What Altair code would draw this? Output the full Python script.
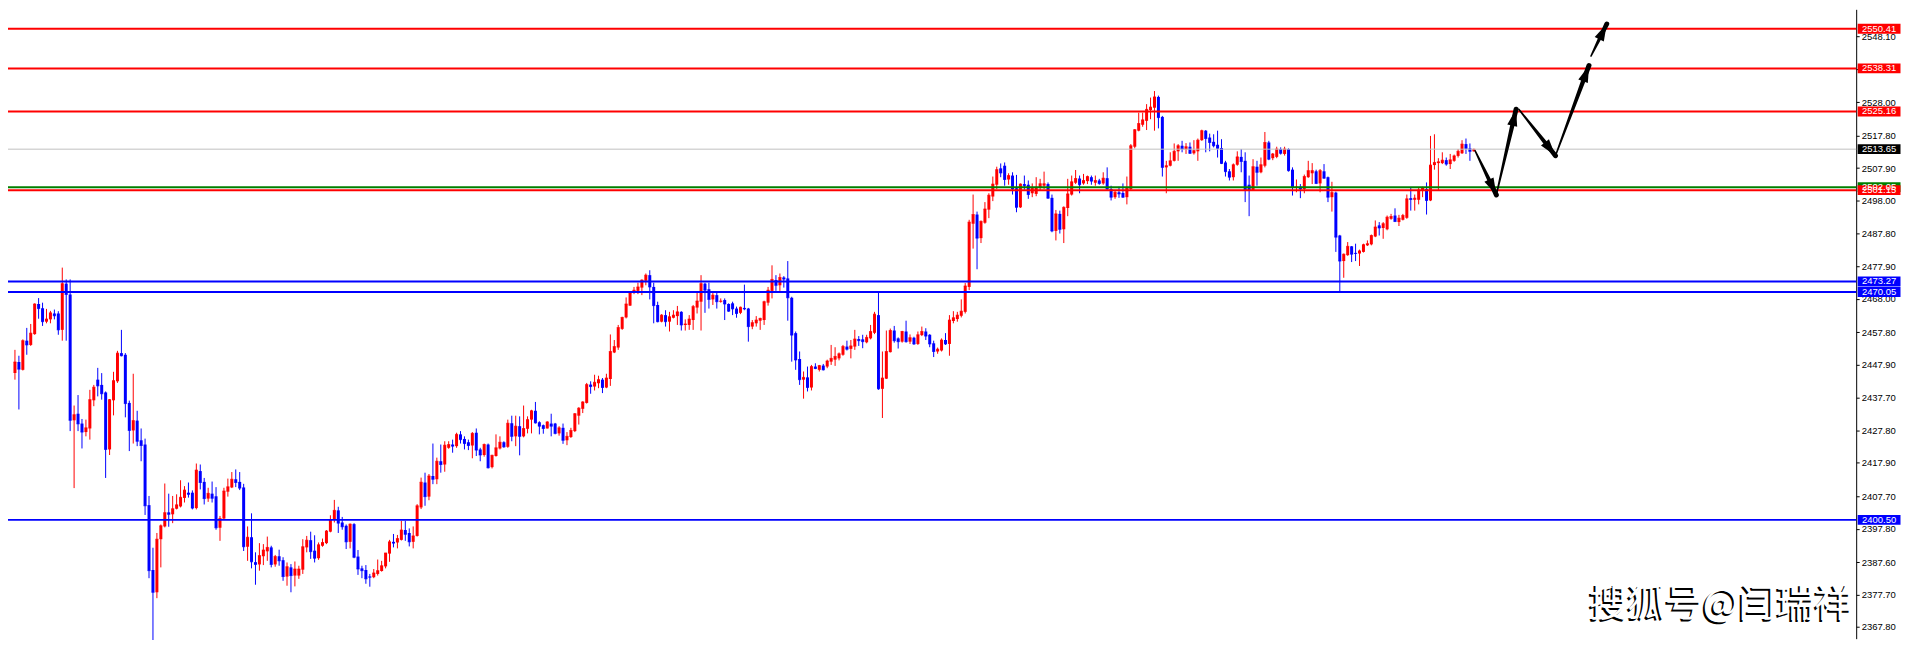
import math
import altair as alt
import numpy as np
import pandas as pd

# ---------------- candle data, candles 1..371 ----------------
OPEN = [
    2445.3, 2448.7, 2446.3, 2455.2, 2453.9, 2457.2, 2466.4, 2465.1, 2461.0, 2461.7,
    2463.5, 2463.5, 2458.5, 2472.6, 2469.3, 2430.9, 2432.9, 2429.9, 2427.3, 2428.4,
    2437.0, 2443.3, 2441.7, 2439.4, 2422.0, 2437.0, 2442.8, 2451.4, 2450.9, 2436.2,
    2427.8, 2430.8, 2424.8, 2423.5, 2405.0, 2385.2, 2378.4, 2394.6, 2398.5, 2402.8,
    2402.2, 2403.9, 2404.6, 2407.2, 2408.8, 2408.8, 2404.1, 2415.4, 2412.1, 2407.0,
    2408.5, 2407.7, 2398.1, 2400.9, 2409.1, 2410.4, 2412.9, 2412.1, 2410.4, 2392.3,
    2395.2, 2387.6, 2386.9, 2389.4, 2390.9, 2392.1, 2386.9, 2389.4, 2388.2, 2383.2,
    2386.0, 2383.5, 2383.5, 2385.3, 2392.1, 2394.3, 2391.1, 2388.8, 2392.6, 2393.4,
    2396.9, 2400.5, 2403.4, 2399.7, 2398.7, 2393.8, 2399.2, 2389.3, 2385.7, 2385.2,
    2383.2, 2383.0, 2384.0, 2384.9, 2386.3, 2390.2, 2393.8, 2393.6, 2394.4, 2397.4,
    2396.5, 2393.8, 2395.6, 2404.3, 2411.9, 2407.6, 2413.9, 2412.9, 2418.4, 2417.4,
    2422.5, 2423.5, 2423.0, 2426.6, 2425.2, 2424.2, 2423.2, 2427.1, 2422.0, 2420.3,
    2423.5, 2416.6, 2420.0, 2422.3, 2424.2, 2422.8, 2430.0, 2426.0, 2429.1, 2426.0,
    2428.3, 2431.1, 2433.8, 2430.3, 2429.4, 2428.4, 2429.9, 2429.9, 2426.9, 2428.6,
    2424.8, 2425.8, 2427.6, 2432.3, 2434.4, 2436.2, 2441.8, 2441.2, 2442.2, 2443.3,
    2440.9, 2443.5, 2451.6, 2453.1, 2458.8, 2462.3, 2465.9, 2469.8, 2470.4, 2471.4,
    2473.5, 2475.2, 2471.6, 2466.1, 2461.0, 2463.0, 2461.0, 2462.2, 2462.7, 2464.0,
    2460.0, 2460.0, 2461.5, 2465.3, 2467.1, 2472.6, 2470.9, 2467.8, 2469.1, 2467.1,
    2467.6, 2466.4, 2466.6, 2465.0, 2463.7, 2465.2, 2465.0, 2459.5, 2460.5, 2461.3,
    2461.5, 2466.8, 2470.4, 2473.7, 2472.1, 2474.5, 2474.2, 2468.3, 2457.5, 2449.6,
    2443.3, 2444.0, 2440.9, 2447.3, 2446.3, 2447.6, 2447.3, 2448.8, 2449.4, 2449.8,
    2450.9, 2453.4, 2452.7, 2453.4, 2455.7, 2455.6, 2454.7, 2455.9, 2457.6, 2463.0,
    2440.5, 2443.6, 2451.7, 2458.3, 2455.9, 2454.9, 2458.0, 2454.9, 2456.1, 2454.2,
    2456.9, 2458.0, 2457.0, 2454.4, 2451.9, 2452.2, 2455.4, 2454.2, 2461.2, 2461.8,
    2462.8, 2464.0, 2471.6, 2490.9, 2493.7, 2486.5, 2491.2, 2495.2, 2499.2, 2502.8,
    2507.8, 2508.6, 2504.4, 2505.6, 2501.7, 2495.9, 2503.0, 2502.8, 2500.2, 2500.0,
    2501.8, 2502.5, 2503.0, 2498.8, 2488.7, 2493.9, 2489.2, 2495.7, 2499.8, 2503.4,
    2504.7, 2503.2, 2503.9, 2505.1, 2503.4, 2504.1, 2503.2, 2504.8, 2501.5, 2499.0,
    2500.5, 2500.3, 2499.0, 2501.5, 2514.4, 2519.3, 2521.1, 2522.3, 2525.6, 2526.3,
    2529.6, 2523.5, 2508.1, 2508.6, 2510.1, 2513.0, 2514.7, 2513.6, 2514.4, 2512.4,
    2513.0, 2516.4, 2519.3, 2517.2, 2515.9, 2515.0, 2514.0, 2509.6, 2506.9, 2505.1,
    2508.9, 2511.3, 2510.1, 2502.8, 2501.2, 2508.3, 2506.6, 2508.6, 2515.7, 2510.9,
    2511.3, 2513.7, 2512.2, 2513.7, 2507.4, 2502.0, 2502.2, 2501.5, 2505.1, 2506.3,
    2506.9, 2503.2, 2506.9, 2505.1, 2499.0, 2500.4, 2487.3, 2479.5, 2481.3, 2484.0,
    2482.0, 2481.8, 2482.3, 2484.3, 2484.6, 2487.0, 2490.4, 2489.6, 2489.2, 2492.4,
    2493.4, 2491.4, 2492.1, 2492.7, 2498.7, 2498.2, 2498.2, 2501.0, 2501.5, 2498.0,
    2508.8, 2509.4, 2509.4, 2510.3, 2509.1, 2510.1, 2511.6, 2512.4, 2515.2, 2513.9, 2513.0,
]
HIGH = [
    2452.4, 2450.6, 2455.6, 2459.1, 2460.3, 2466.6, 2468.2, 2466.8, 2464.9, 2464.3,
    2464.7, 2464.2, 2477.5, 2473.9, 2473.9, 2435.4, 2438.6, 2431.3, 2431.1, 2440.2,
    2441.7, 2446.9, 2445.3, 2439.7, 2437.4, 2445.7, 2452.1, 2458.5, 2451.4, 2436.9,
    2445.1, 2433.8, 2428.4, 2425.3, 2407.8, 2392.0, 2396.5, 2399.1, 2411.6, 2408.5,
    2407.8, 2408.3, 2412.6, 2410.8, 2411.9, 2409.5, 2417.7, 2417.4, 2413.3, 2410.3,
    2412.2, 2410.5, 2401.7, 2410.3, 2413.1, 2415.1, 2415.9, 2415.1, 2411.5, 2398.5,
    2402.5, 2390.6, 2393.4, 2393.1, 2395.4, 2392.6, 2389.8, 2391.4, 2389.1, 2387.5,
    2387.0, 2387.8, 2386.5, 2394.6, 2395.6, 2396.9, 2395.8, 2393.6, 2394.8, 2397.4,
    2401.9, 2406.6, 2404.5, 2401.4, 2399.1, 2399.4, 2399.5, 2391.3, 2386.5, 2386.7,
    2384.0, 2385.5, 2388.4, 2388.0, 2390.4, 2394.4, 2396.2, 2395.9, 2400.2, 2400.2,
    2397.9, 2398.5, 2405.3, 2413.4, 2414.9, 2414.5, 2423.8, 2419.5, 2423.5, 2424.5,
    2424.5, 2425.0, 2427.1, 2427.6, 2426.0, 2425.0, 2427.3, 2428.4, 2422.5, 2423.8,
    2423.8, 2420.4, 2426.6, 2426.0, 2424.5, 2431.1, 2432.3, 2432.3, 2432.1, 2435.4,
    2432.1, 2434.1, 2436.5, 2430.6, 2429.6, 2430.6, 2432.9, 2430.1, 2429.1, 2429.9,
    2427.3, 2428.6, 2433.1, 2434.9, 2436.7, 2442.3, 2442.8, 2444.8, 2444.5, 2443.8,
    2445.1, 2457.1, 2455.4, 2460.0, 2462.5, 2468.4, 2470.1, 2471.6, 2472.9, 2473.9,
    2475.7, 2476.7, 2472.9, 2467.1, 2463.3, 2464.5, 2464.0, 2464.5, 2465.8, 2464.2,
    2461.7, 2463.0, 2466.1, 2470.1, 2475.2, 2472.9, 2472.9, 2470.1, 2469.9, 2468.1,
    2468.1, 2466.6, 2467.1, 2465.6, 2465.6, 2472.3, 2465.2, 2461.5, 2462.7, 2462.2,
    2467.4, 2471.6, 2478.2, 2475.2, 2475.7, 2474.9, 2479.5, 2468.6, 2458.0, 2451.9,
    2445.8, 2447.3, 2447.8, 2448.3, 2447.8, 2448.1, 2449.4, 2453.9, 2453.2, 2451.6,
    2453.9, 2455.2, 2455.4, 2458.5, 2456.6, 2457.0, 2457.0, 2460.0, 2464.0, 2469.8,
    2451.9, 2458.3, 2458.9, 2459.7, 2456.2, 2458.2, 2461.3, 2457.1, 2456.4, 2458.0,
    2459.5, 2459.0, 2457.2, 2455.2, 2453.1, 2455.9, 2457.5, 2463.0, 2464.2, 2464.0,
    2467.8, 2472.8, 2492.1, 2499.8, 2494.6, 2491.9, 2497.5, 2500.2, 2505.3, 2508.3,
    2509.3, 2509.6, 2506.3, 2506.6, 2505.8, 2503.2, 2505.6, 2504.1, 2503.2, 2505.1,
    2504.6, 2506.8, 2503.5, 2499.8, 2495.1, 2494.9, 2496.2, 2504.6, 2505.6, 2507.3,
    2505.6, 2506.1, 2505.6, 2505.6, 2505.6, 2504.6, 2506.6, 2508.1, 2502.5, 2501.2,
    2502.2, 2503.2, 2505.3, 2515.2, 2519.8, 2524.8, 2524.8, 2527.4, 2529.4, 2531.4,
    2530.0, 2523.8, 2510.1, 2512.7, 2515.4, 2515.2, 2516.2, 2515.5, 2515.7, 2516.4,
    2516.9, 2519.6, 2519.5, 2518.4, 2518.2, 2519.3, 2516.7, 2510.1, 2507.6, 2509.3,
    2513.0, 2513.7, 2512.7, 2505.6, 2510.6, 2510.1, 2511.1, 2518.9, 2516.2, 2512.5,
    2514.4, 2514.2, 2514.4, 2513.9, 2508.1, 2504.4, 2503.0, 2505.9, 2510.1, 2509.4,
    2507.4, 2507.6, 2509.1, 2505.3, 2503.7, 2500.7, 2487.5, 2481.8, 2485.3, 2484.1,
    2484.8, 2483.0, 2484.8, 2485.8, 2487.6, 2491.9, 2491.4, 2491.4, 2493.4, 2493.9,
    2495.6, 2493.6, 2493.9, 2499.8, 2501.8, 2499.8, 2501.8, 2502.2, 2503.5, 2517.7,
    2518.2, 2510.9, 2512.7, 2511.1, 2512.2, 2512.0, 2513.7, 2516.4, 2516.9, 2515.4, 2513.8,
]
LOW = [
    2443.3, 2434.2, 2446.1, 2450.9, 2453.6, 2457.0, 2461.9, 2459.7, 2460.5, 2460.5,
    2461.7, 2457.0, 2455.2, 2455.2, 2427.6, 2410.2, 2427.6, 2422.3, 2426.0, 2425.0,
    2435.2, 2438.2, 2437.2, 2413.3, 2420.3, 2432.4, 2442.3, 2450.4, 2431.8, 2421.5,
    2423.8, 2423.0, 2418.4, 2402.0, 2382.7, 2363.4, 2376.6, 2386.0, 2398.2, 2398.4,
    2399.5, 2403.7, 2404.3, 2405.8, 2407.3, 2403.7, 2403.7, 2409.8, 2405.2, 2406.0,
    2405.8, 2397.5, 2394.1, 2400.7, 2407.6, 2410.2, 2410.5, 2409.6, 2391.0, 2388.0,
    2385.7, 2380.7, 2385.0, 2386.7, 2388.0, 2386.0, 2386.2, 2386.5, 2381.9, 2380.4,
    2378.4, 2380.2, 2382.5, 2384.0, 2390.6, 2388.6, 2387.5, 2388.3, 2392.3, 2393.1,
    2396.7, 2399.7, 2396.5, 2397.5, 2391.6, 2391.8, 2388.8, 2383.7, 2382.7, 2381.0,
    2380.1, 2382.7, 2383.5, 2384.7, 2385.7, 2387.7, 2392.1, 2391.8, 2394.2, 2394.1,
    2392.4, 2391.8, 2395.4, 2403.8, 2404.8, 2406.5, 2411.4, 2411.4, 2414.9, 2415.2,
    2422.2, 2421.0, 2422.5, 2423.8, 2422.0, 2421.8, 2419.3, 2420.0, 2418.4, 2419.8,
    2416.2, 2416.2, 2419.8, 2422.0, 2422.5, 2422.5, 2424.5, 2423.0, 2420.2, 2425.7,
    2426.9, 2426.9, 2429.9, 2426.6, 2426.8, 2428.4, 2426.0, 2426.6, 2426.2, 2423.7,
    2423.3, 2425.5, 2427.3, 2429.6, 2433.1, 2436.0, 2439.0, 2440.0, 2440.7, 2439.2,
    2440.7, 2441.4, 2451.4, 2452.4, 2458.5, 2462.0, 2465.8, 2469.4, 2469.4, 2469.1,
    2472.1, 2467.8, 2460.5, 2460.8, 2460.8, 2459.5, 2458.0, 2462.0, 2460.0, 2458.3,
    2458.3, 2458.5, 2458.5, 2463.5, 2458.3, 2463.7, 2465.0, 2466.1, 2465.0, 2466.8,
    2461.5, 2464.0, 2463.0, 2462.2, 2463.3, 2464.5, 2454.9, 2458.7, 2459.5, 2458.5,
    2460.0, 2465.9, 2468.1, 2470.4, 2470.4, 2471.4, 2461.3, 2448.8, 2446.3, 2441.7,
    2437.5, 2439.7, 2440.0, 2446.5, 2445.8, 2446.1, 2446.8, 2447.8, 2447.5, 2449.2,
    2450.6, 2452.2, 2449.8, 2452.4, 2453.6, 2452.9, 2454.4, 2455.6, 2457.2, 2440.2,
    2431.6, 2443.5, 2451.6, 2454.6, 2452.8, 2454.6, 2454.6, 2454.2, 2453.9, 2453.9,
    2456.6, 2455.4, 2453.2, 2450.2, 2451.2, 2451.9, 2453.9, 2450.6, 2460.5, 2461.0,
    2462.3, 2463.5, 2470.6, 2483.3, 2477.0, 2485.0, 2490.9, 2492.6, 2497.8, 2501.5,
    2505.1, 2502.5, 2502.8, 2499.8, 2494.4, 2495.7, 2501.3, 2498.5, 2499.0, 2499.3,
    2501.0, 2501.5, 2498.5, 2488.3, 2485.8, 2487.9, 2485.0, 2493.2, 2499.5, 2503.0,
    2500.2, 2502.8, 2503.0, 2502.8, 2502.5, 2502.8, 2502.8, 2501.2, 2498.0, 2498.5,
    2498.8, 2498.8, 2496.8, 2501.2, 2513.9, 2519.1, 2520.5, 2519.5, 2522.8, 2519.3,
    2520.0, 2505.3, 2500.2, 2508.4, 2509.9, 2510.1, 2512.7, 2512.2, 2512.2, 2512.0,
    2510.1, 2516.2, 2512.7, 2513.0, 2514.2, 2511.1, 2509.1, 2505.3, 2504.1, 2504.1,
    2508.6, 2506.6, 2497.5, 2493.2, 2501.0, 2502.5, 2506.3, 2508.1, 2510.3, 2510.3,
    2510.9, 2512.0, 2511.7, 2506.8, 2499.5, 2500.5, 2498.7, 2500.2, 2504.9, 2503.0,
    2503.0, 2500.5, 2504.6, 2497.5, 2494.6, 2482.3, 2469.8, 2474.4, 2481.1, 2479.2,
    2479.5, 2478.0, 2482.1, 2484.1, 2484.3, 2486.8, 2487.3, 2486.3, 2488.9, 2492.1,
    2491.4, 2490.2, 2491.9, 2492.4, 2494.9, 2494.9, 2496.8, 2499.0, 2493.7, 2497.8,
    2507.4, 2501.2, 2509.1, 2508.6, 2507.6, 2509.8, 2511.1, 2512.2, 2512.2, 2510.1, 2512.9,
]
CLOSE = [
    2448.7, 2446.5, 2455.2, 2453.9, 2457.5, 2466.4, 2465.0, 2461.0, 2461.8, 2463.7,
    2462.8, 2458.5, 2472.6, 2469.3, 2430.9, 2432.6, 2429.8, 2427.3, 2428.6, 2437.2,
    2441.0, 2441.4, 2439.0, 2422.0, 2437.2, 2443.0, 2451.4, 2450.6, 2436.0, 2427.8,
    2430.8, 2424.5, 2423.2, 2404.8, 2385.0, 2378.4, 2394.6, 2398.7, 2402.7, 2402.2,
    2403.9, 2405.1, 2407.4, 2409.6, 2408.3, 2404.1, 2415.7, 2411.9, 2407.0, 2408.6,
    2407.1, 2398.1, 2400.9, 2409.3, 2410.6, 2412.9, 2411.9, 2410.2, 2392.3, 2395.2,
    2387.7, 2386.9, 2389.6, 2391.3, 2392.1, 2386.9, 2389.3, 2388.0, 2383.2, 2386.2,
    2383.5, 2385.5, 2385.5, 2392.3, 2394.3, 2390.8, 2388.8, 2392.9, 2393.6, 2397.1,
    2400.5, 2403.4, 2399.5, 2398.4, 2393.8, 2399.2, 2389.1, 2385.5, 2385.0, 2382.5,
    2383.0, 2384.3, 2385.0, 2386.5, 2390.4, 2393.8, 2393.4, 2394.8, 2397.4, 2396.1,
    2393.8, 2395.6, 2404.8, 2412.0, 2407.6, 2413.9, 2412.9, 2418.4, 2417.4, 2423.3,
    2423.5, 2423.0, 2426.6, 2425.0, 2423.8, 2423.2, 2426.9, 2421.8, 2420.3, 2423.5,
    2416.4, 2420.2, 2422.5, 2424.2, 2422.8, 2430.0, 2426.0, 2429.1, 2426.0, 2428.4,
    2431.1, 2433.8, 2430.1, 2429.1, 2428.4, 2430.4, 2429.1, 2426.9, 2428.6, 2424.8,
    2426.0, 2427.8, 2432.9, 2434.6, 2436.5, 2441.8, 2441.2, 2442.5, 2443.3, 2440.9,
    2443.8, 2451.9, 2453.4, 2459.2, 2462.3, 2466.4, 2469.8, 2470.6, 2471.6, 2473.7,
    2475.2, 2471.6, 2465.9, 2461.0, 2463.0, 2461.0, 2462.5, 2463.0, 2464.0, 2460.0,
    2460.3, 2461.8, 2465.6, 2467.3, 2472.6, 2470.6, 2467.8, 2469.1, 2467.1, 2467.3,
    2466.4, 2464.2, 2464.9, 2463.5, 2465.4, 2464.9, 2459.5, 2460.7, 2461.5, 2462.0,
    2467.1, 2470.6, 2473.9, 2472.1, 2474.5, 2474.0, 2468.3, 2456.9, 2449.3, 2443.3,
    2444.0, 2440.9, 2447.3, 2446.7, 2447.6, 2446.3, 2449.0, 2449.8, 2450.4, 2451.2,
    2453.4, 2452.6, 2453.6, 2455.7, 2455.2, 2454.9, 2456.2, 2458.0, 2463.3, 2440.5,
    2443.8, 2451.9, 2458.3, 2455.2, 2454.9, 2458.0, 2454.9, 2456.1, 2454.2, 2457.0,
    2458.0, 2456.6, 2454.2, 2451.9, 2452.6, 2455.4, 2454.2, 2461.5, 2462.2, 2463.0,
    2464.2, 2471.9, 2491.4, 2493.7, 2486.5, 2491.6, 2495.4, 2499.6, 2503.0, 2507.4,
    2506.4, 2504.4, 2505.6, 2501.5, 2495.9, 2503.0, 2502.5, 2499.8, 2501.7, 2502.0,
    2503.1, 2503.1, 2498.7, 2488.7, 2493.9, 2489.2, 2495.9, 2500.0, 2503.7, 2504.7,
    2502.8, 2504.1, 2505.3, 2503.9, 2504.1, 2503.2, 2504.8, 2501.5, 2499.0, 2500.5,
    2500.0, 2499.0, 2501.7, 2514.7, 2519.6, 2521.5, 2522.6, 2525.8, 2526.5, 2529.6,
    2523.3, 2508.1, 2508.6, 2510.1, 2513.0, 2514.7, 2513.7, 2514.4, 2512.4, 2513.2,
    2516.4, 2519.3, 2516.9, 2515.7, 2514.7, 2513.9, 2509.3, 2506.8, 2505.1, 2508.9,
    2511.3, 2509.9, 2501.2, 2501.2, 2508.3, 2506.6, 2508.9, 2515.7, 2510.6, 2512.2,
    2513.7, 2512.4, 2513.7, 2507.1, 2502.0, 2502.1, 2501.5, 2505.3, 2507.1, 2507.1,
    2503.2, 2507.1, 2504.8, 2499.0, 2500.4, 2486.8, 2479.5, 2481.6, 2484.0, 2481.6,
    2481.8, 2482.6, 2484.5, 2484.8, 2487.3, 2489.9, 2489.6, 2490.9, 2492.9, 2493.1,
    2491.6, 2492.6, 2493.4, 2498.5, 2498.3, 2498.7, 2501.2, 2501.8, 2498.0, 2508.8,
    2509.6, 2509.8, 2510.3, 2509.1, 2510.4, 2511.6, 2513.0, 2515.2, 2513.9, 2513.0, 2513.6,
]
assert len(OPEN) == len(HIGH) == len(LOW) == len(CLOSE)

# ---------------- horizontal levels and their price tags ----------------
LEVEL_PRICES = [2550.41, 2538.31, 2525.16, 2513.65, 2502.05, 2501.15, 2473.27, 2470.05, 2400.50]
LEVEL_LINE_COLORS = ["#ff0000", "#ff0000", "#ff0000", "#c0c0c0", "#008000",
                     "#ff0000", "#0000ff", "#0000ff", "#0000ff"]
LEVEL_TAG_COLORS = ["#ff0000", "#ff0000", "#ff0000", "#000000", "#008000",
                    "#ff0000", "#0000ff", "#0000ff", "#0000ff"]
LEVEL_WIDTHS = [2, 2, 2, 1, 2, 2, 2, 2, 2]

# ---------------- right axis tick labels ----------------
TICKS = [2558.00, 2548.10, 2538.20, 2528.00, 2517.80, 2507.90, 2498.00, 2487.80,
         2477.90, 2468.00, 2457.80, 2447.90, 2437.70, 2427.80, 2417.90, 2407.70,
         2397.80, 2387.60, 2377.70, 2367.80]

# ---------------- projected path arrows (bar index, price) ----------------
ARROW_ID = [1, 1, 2, 2, 3, 3, 4, 4, 5, 5]
ARROW_BAR = [371.3, 376.7, 376.7, 381.7, 382.4, 391.7, 391.7, 400.2, 400.7, 404.7]
ARROW_PRICE = [2513.2, 2499.7, 2499.7, 2525.85, 2525.85, 2511.66, 2511.66, 2539.2, 2542.05, 2551.87]

WATERMARK = "搜狐号@闫瑞祥"

# ---------------- layout ----------------
W, H = 1856, 632
XDOM = [0.5, 466.7]
YDOM = [2364.24, 2556.34]
PX_PER_BAR = W / (XDOM[1] - XDOM[0])
PX_PER_PRICE = H / (YDOM[1] - YDOM[0])

df = pd.DataFrame({"k": np.arange(1, len(OPEN) + 1), "o": OPEN, "h": HIGH, "l": LOW, "c": CLOSE})
df["dir"] = np.where(df["c"] >= df["o"], "up", "down")

levels = pd.DataFrame({
    "price": LEVEL_PRICES, "line": LEVEL_LINE_COLORS, "tag": LEVEL_TAG_COLORS, "w": LEVEL_WIDTHS,
})
levels["label"] = [f"{p:.2f}" for p in LEVEL_PRICES]

arrows = pd.DataFrame({"id": ARROW_ID, "k": ARROW_BAR, "p": ARROW_PRICE})
arrows["seq"] = np.arange(len(arrows))
arrows["w"] = [1.5, 5.0] * 5
heads = arrows.iloc[1::2].reset_index(drop=True).copy()
starts = arrows.iloc[0::2].reset_index(drop=True)
ang = []
for i in range(len(heads)):
    dx = (heads.loc[i, "k"] - starts.loc[i, "k"]) * PX_PER_BAR
    dy = -(heads.loc[i, "p"] - starts.loc[i, "p"]) * PX_PER_PRICE
    ang.append((math.degrees(math.atan2(dx, -dy)) + 360) % 360)
heads["ang"] = ang

xs = alt.Scale(domain=XDOM, nice=False, zero=False)
ys = alt.Scale(domain=YDOM, nice=False, zero=False)
yaxis = alt.Axis(orient="right", values=TICKS, format=".2f", grid=False, title=None,
                 labelFontSize=9.5, labelFont="Liberation Sans", labelColor="#000000",
                 tickColor="#000000", tickSize=3, domainColor="#000000", domainWidth=1,
                 labelPadding=2, labelOverlap=False, labelFlush=False, labelBound=False)
X = alt.X("k:Q", scale=xs, axis=None)
color = alt.Color("dir:N", scale=alt.Scale(domain=["up", "down"], range=["#ff0000", "#0000ff"]),
                  legend=None)

base = alt.Chart(df)
wicks = base.mark_rule(strokeWidth=1).encode(
    x=X, y=alt.Y("l:Q", scale=ys, axis=yaxis, title=None), y2="h:Q", color=color)
bodies = base.mark_bar(width=3).encode(
    x=X, y=alt.Y("o:Q", scale=ys, axis=yaxis, title=None), y2="c:Q", color=color)
closes = base.mark_tick(orient="horizontal", size=3, thickness=1).encode(
    x=X, y=alt.Y("c:Q", scale=ys, axis=yaxis, title=None), color=color)

lines = alt.Chart(levels).mark_rule().encode(
    y=alt.Y("price:Q", scale=ys, axis=yaxis, title=None),
    color=alt.Color("line:N", scale=None),
    strokeWidth=alt.StrokeWidth("w:Q", scale=None))

TAG_SHAPE = "M-1,-0.23L1,-0.23L1,0.23L-1,0.23Z"
tags = alt.Chart(levels).mark_point(shape=TAG_SHAPE, filled=True, size=1849, opacity=1,
                                    strokeWidth=0).encode(
    x=alt.value(W + 23), y=alt.Y("price:Q", scale=ys, axis=yaxis, title=None),
    color=alt.Color("tag:N", scale=None))
tag_text = alt.Chart(levels).mark_text(color="#ffffff", fontSize=9.5, font="Liberation Sans",
                                       align="center", baseline="middle").encode(
    x=alt.value(W + 23), y=alt.Y("price:Q", scale=ys, axis=yaxis, title=None), text="label:N")

shafts = alt.Chart(arrows).mark_trail(color="#000000").encode(
    x=alt.X("k:Q", scale=xs, axis=None),
    y=alt.Y("p:Q", scale=ys, axis=yaxis, title=None),
    size=alt.Size("w:Q", scale=None, legend=None),
    detail="id:N", order="seq:Q")
HEAD_SHAPE = "M0,0L0.6,2L-0.6,2Z"
arrow_heads = alt.Chart(heads).mark_point(shape=HEAD_SHAPE, filled=True, size=289, opacity=1,
                                          color="#000000", strokeWidth=0).encode(
    x=alt.X("k:Q", scale=xs, axis=None),
    y=alt.Y("p:Q", scale=ys, axis=yaxis, title=None),
    angle=alt.Angle("ang:Q", scale=None))

wm = pd.DataFrame({"t": [WATERMARK]})
wm_shadow = alt.Chart(wm).mark_text(font="Noto Sans CJK SC", fontSize=38, align="left",
                                    baseline="middle", color="#000000", dx=-2, dy=2).encode(
    x=alt.value(1588), y=alt.value(598), text="t:N")
wm_front = alt.Chart(wm).mark_text(font="Noto Sans CJK SC", fontSize=38, align="left",
                                   baseline="middle", color="#ffffff").encode(
    x=alt.value(1588), y=alt.value(598), text="t:N")

chart = alt.layer(
    wicks, bodies, closes, lines, shafts, arrow_heads, tags, tag_text, wm_shadow, wm_front
).properties(
    width=W, height=H,
    autosize=alt.AutoSizeParams(type="none"),
    padding={"left": 0, "top": 0, "right": 45, "bottom": 0},
    background="#ffffff",
).configure_view(stroke=None)

chart.save("out.html", embed_options={"renderer": "svg", "actions": False})
